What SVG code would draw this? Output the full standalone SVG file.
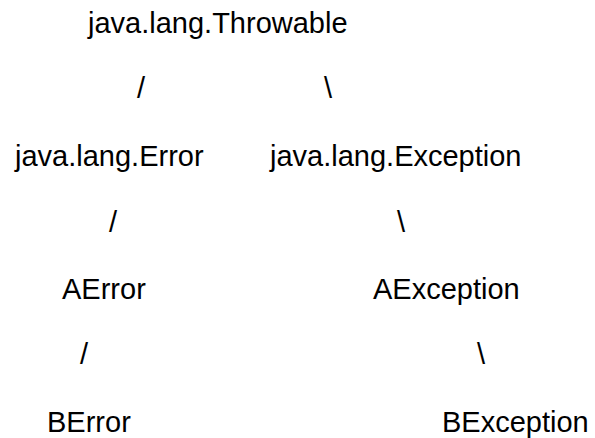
<svg xmlns="http://www.w3.org/2000/svg" width="595" height="438" viewBox="0 0 595 438">
  <style>
    text { font-family: "Liberation Sans", Arial, sans-serif; font-size: 29px; fill: #000; }
  </style>
  <rect width="595" height="438" fill="#fff"/>
  <g id="connectors">
    <text x="137" y="98">/</text>
    <text x="324" y="98">\</text>
    <text x="109" y="232">/</text>
    <text x="397" y="232">\</text>
    <text x="80" y="364">/</text>
    <text x="477" y="364">\</text>
  </g>
  <g id="throwable"><text x="88" y="33">java.lang.Throwable</text></g>
  <g id="error"><text x="15" y="166">java.lang.Error</text></g>
  <g id="exception"><text x="270" y="166">java.lang.Exception</text></g>
  <g id="aerror"><text x="62" y="299">AError</text></g>
  <g id="aexception"><text x="373" y="299">AException</text></g>
  <g id="berror"><text x="47" y="432">BError</text></g>
  <g id="bexception"><text x="442" y="432">BException</text></g>
</svg>
